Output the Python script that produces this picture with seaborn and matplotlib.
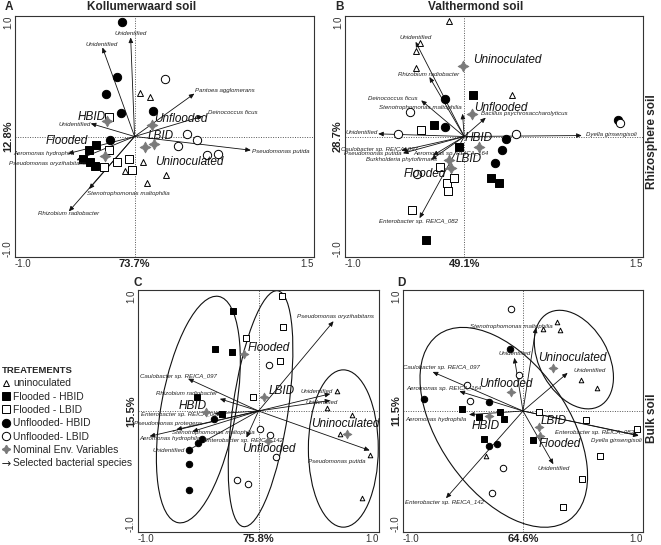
import numpy as np
import pandas as pd
import seaborn as sns
import matplotlib.pyplot as plt
from matplotlib.patches import Ellipse
from matplotlib.lines import Line2D

sns.set_theme(style="white")
plt.rcParams['font.family'] = ['Liberation Sans', 'DejaVu Sans']

groups = ['uninoculated', 'Flooded - HBID', 'Flooded - LBID', 'Unflooded- HBID', 'Unflooded- LBID']

# ---------------- panel A : Kollumerwaard soil (rhizosphere)
A_uninoculated = [(0.044, 0.361), (0.131, 0.331), (0.069, -0.211), (-0.078, -0.289), (0.1, -0.386), (0.264, -0.322)]
A_flooded_hbid = [(-0.319, -0.069), (-0.381, -0.114), (-0.431, -0.183), (-0.375, -0.214), (-0.328, -0.247)]
A_flooded_lbid = [(-0.217, 0.164), (-0.217, -0.114), (-0.258, -0.253), (-0.147, -0.211), (-0.05, -0.183), (-0.022, -0.281)]
A_unflooded_hbid = [(-0.108, 0.947), (-0.15, 0.497), (-0.242, 0.35), (-0.117, 0.197), (0.158, 0.211), (-0.208, -0.031)]
A_unflooded_lbid = [(0.256, 0.475), (0.436, 0.022), (0.519, -0.033), (0.361, -0.075), (0.603, -0.15), (0.7, -0.142)]
A_nominal = ['HBID', 'Flooded', 'Unflooded', 'LBID', 'Uninoculated']
A_nominal_xy = [(-0.231, 0.125), (-0.247, -0.158), (0.147, 0.097), (0.161, -0.061), (0.089, -0.089)]
A_nominal_text_xy = [(-0.361, 0.164), (-0.569, -0.039), (0.386, 0.147), (0.222, 0.008), (0.458, -0.211)]
A_species = ['Unidentified', 'Unidentified', 'Pantoea agglomerans', 'Deinococcus ficus', 'Pseudomonas putida',
             'Unidentified', 'Aeromonas hydrophila', 'Pseudomonas oryzihabitans', 'Stenotrophomonas maltophilia',
             'Rhizobium radiobacter']
A_species_xy = [(-0.033, 0.822), (-0.269, 0.739), (0.5, 0.356), (0.569, 0.169), (0.972, -0.114),
                (-0.367, 0.108), (-0.556, -0.142), (-0.486, -0.197), (-0.381, -0.436), (-0.55, -0.622)]
A_species_text_xy = [(-0.036, 0.853), (-0.275, 0.767), (0.758, 0.383), (0.822, 0.197), (1.222, -0.122),
                     (-0.503, 0.1), (-0.758, -0.144), (-0.731, -0.228), (-0.056, -0.469), (-0.556, -0.636)]

# ---------------- panel B : Valthermond soil (rhizosphere)
B_uninoculated = [(-0.125, 0.958), (-0.375, 0.778), (-0.408, 0.711), (-0.403, 0.569), (0.403, 0.347)]
B_flooded_hbid = [(0.075, 0.347), (-0.25, 0.092), (-0.047, -0.089), (0.225, -0.344), (0.292, -0.389), (-0.319, -0.861)]
B_flooded_lbid = [(-0.361, 0.058), (-0.203, -0.25), (-0.147, -0.389), (-0.139, -0.456), (-0.436, -0.611), (-0.083, -0.344)]
B_unflooded_hbid = [(-0.158, 0.314), (-0.158, 0.078), (0.353, -0.019), (0.319, -0.111), (0.258, -0.219), (1.292, 0.133)]
B_unflooded_lbid = [(-0.458, 0.203), (-0.556, 0.017), (0.431, 0.017), (1.306, 0.111), (-0.397, -0.311)]
B_nominal = ['Uninoculated', 'Unflooded', 'HBID', 'LBID', 'Flooded']
B_nominal_xy = [(-0.006, 0.586), (0.064, 0.189), (0.125, -0.089), (-0.131, -0.194), (-0.111, -0.261)]
B_nominal_text_xy = [(0.364, 0.633), (0.308, 0.239), (0.125, -0.014), (0.036, -0.186), (-0.331, -0.311)]
B_species = ['Unidentified', 'Rhizobium radiobacter', 'Deinococcus ficus', 'Stenotrophomonas maltophilia',
             'Bacillus psychrosaccharolyticus', 'Dyella ginsengisoli', 'Unidentified', 'Caulobacter sp. REICA_097',
             'Pseudomonas putida', 'Aeromonas sp. REICA_164', 'Burkholderia phytofirmans', 'Enterobacter sp. REICA_082']
B_species_xy = [(-0.408, 0.786), (-0.292, 0.494), (-0.361, 0.3), (-0.014, 0.189), (0.181, 0.156), (0.986, 0.008),
                (-0.722, 0.022), (-0.528, -0.117), (-0.514, -0.139), (-0.264, -0.158), (-0.278, -0.194), (-0.375, -0.678)]
B_species_text_xy = [(-0.408, 0.819), (-0.297, 0.517), (-0.603, 0.314), (-0.369, 0.244), (0.508, 0.189), (1.236, 0.014),
                     (-0.856, 0.036), (-0.708, -0.108), (-0.764, -0.144), (-0.11, -0.14), (-0.528, -0.194), (-0.381, -0.706)]

# ---------------- panel C : Kollumerwaard soil (bulk)
C_uninoculated = [(0.652, 0.164), (0.568, 0.026), (0.777, -0.029), (0.673, -0.194), (0.923, -0.36), (0.86, -0.717)]
C_flooded_hbid = [(-0.215, 0.826), (-0.365, 0.514), (-0.218, 0.486), (-0.507, 0.114), (-0.299, -0.021)]
C_flooded_lbid = [(0.196, 0.951), (0.204, 0.697), (-0.107, 0.601), (0.179, 0.413), (-0.043, 0.114)]
C_unflooded_hbid = [(-0.371, -0.064), (-0.468, -0.235), (-0.499, -0.268), (-0.576, -0.326), (-0.576, -0.442), (-0.576, -0.657)]
C_unflooded_lbid = [(0.09, 0.377), (0.013, -0.145), (0.099, -0.195), (0.149, -0.38), (-0.176, -0.573), (-0.085, -0.603)]
C_nominal = ['Flooded', 'LBID', 'HBID', 'Unflooded', 'Uninoculated']
C_nominal_xy = [(-0.121, 0.468), (0.046, 0.114), (-0.432, -0.007), (0.082, -0.25), (0.735, -0.188)]
C_nominal_text_xy = [(0.082, 0.522), (0.193, 0.164), (-0.548, 0.04), (0.082, -0.313), (0.72, -0.11)]
C_species = ['Pseudomonas oryzihabitans', 'Unidentified', 'Unidentified', 'Pseudomonas putida',
             'Caulobacter sp. REICA_097', 'Rhizobium radiobacter', 'Enterobacter sp. REICA_082', 'Pseudomonas protegens',
             'Stenotrophomonas maltophilia', 'Aeromonas hydrophila', 'Enterobacter sp. REICA_142', 'Unidentified']
C_species_xy = [(0.623, 0.742), (0.596, 0.142), (0.596, 0.087), (0.923, -0.326),
                (-0.585, 0.267), (-0.321, 0.101), (-0.363, -0.023), (-0.682, -0.153),
                (-0.55, -0.17), (-0.904, -0.209), (-0.1, -0.22), (-0.599, -0.333)]
C_species_text_xy = [(0.638, 0.78), (0.479, 0.161), (0.527, 0.068), (0.646, -0.415),
                     (-0.665, 0.289), (-0.599, 0.145), (-0.649, -0.029), (-0.751, -0.106),
                     (-0.371, -0.181), (-0.738, -0.228), (-0.121, -0.245), (-0.743, -0.328)]
C_ellipses = [((-0.499, 0.012), 1.90, 0.62, 79.8), ((0.017, 0.019), 1.97, 0.46, 81.7), ((0.704, -0.31), 1.30, 0.58, 90)]

# ---------------- panel D : Valthermond soil (bulk)
D_uninoculated = [(0.286, 0.732), (0.169, 0.677), (0.311, 0.666), (0.483, 0.26), (0.619, 0.191), (-0.308, -0.376)]
D_flooded_hbid = [(-0.508, 0.017), (-0.364, -0.052), (-0.189, -0.006), (-0.161, -0.064), (-0.322, -0.232), (0.086, -0.243)]
D_flooded_lbid = [(0.131, -0.006), (0.525, -0.072), (0.95, -0.146), (0.639, -0.373), (0.489, -0.564), (0.336, -0.796)]
D_unflooded_hbid = [(-0.108, 0.514), (-0.822, 0.099), (-0.286, 0.075), (-0.217, -0.273), (-0.281, -0.29)]
D_unflooded_lbid = [(-0.1, 0.845), (-0.031, 0.301), (-0.469, 0.218), (-0.442, 0.08), (-0.169, -0.467), (-0.258, -0.68)]
D_nominal = ['Uninoculated', 'Unflooded', 'HBID', 'LBID', 'Flooded']
D_nominal_xy = [(0.253, 0.356), (-0.1, 0.155), (-0.286, -0.044), (0.136, -0.135), (0.142, -0.21)]
D_nominal_text_xy = [(0.414, 0.439), (-0.147, 0.227), (-0.308, -0.122), (0.253, -0.086), (0.303, -0.273)]
D_species = ['Stenotrophomonas maltophilia', 'Unidentified', 'Unidentified', 'Caulobacter sp. REICA_097',
             'Aeromonas sp. REICA_164', 'Aeromonas hydrophila', 'Enterobacter sp. REICA_082', 'Dyella ginsengisoli',
             'Unidentified', 'Enterobacter sp. REICA_142']
D_species_xy = [(0.108, 0.69), (-0.072, 0.44), (0.372, 0.315), (-0.753, 0.323),
                (-0.53, 0.163), (-0.45, -0.03), (0.964, -0.202), (0.964, -0.205),
                (0.253, -0.44), (-0.642, -0.721)]
D_species_text_xy = [(-0.1, 0.702), (-0.072, 0.475), (0.553, 0.337), (-0.683, 0.356),
                     (-0.656, 0.182), (-0.725, -0.072), (0.594, -0.174), (0.775, -0.24),
                     (0.253, -0.478), (-0.656, -0.754)]
D_ellipses = [((-0.16, -0.135), 1.88, 1.07, 125.5), ((0.424, 0.425), 0.88, 0.57, 119.7)]

# ---------------- styling
marker = {'uninoculated': '^', 'Flooded - HBID': 's', 'Flooded - LBID': 's',
          'Unflooded- HBID': 'o', 'Unflooded- LBID': 'o'}
face = {'uninoculated': 'white', 'Flooded - HBID': 'black', 'Flooded - LBID': 'white',
        'Unflooded- HBID': 'black', 'Unflooded- LBID': 'white'}
msize = {'uninoculated': 18, 'Flooded - HBID': 34, 'Flooded - LBID': 34,
         'Unflooded- HBID': 36, 'Unflooded- LBID': 36}
star = (4, 1, 0)
star_col = '#7a7a7a'


def make_df(pts):
    rows = []
    for g, lst in zip(groups, pts):
        for x, y in lst:
            rows.append({'x': x, 'y': y, 'group': g})
    return pd.DataFrame(rows)


def draw_panel(ax, pts, nom, nom_xy, nom_txt, spp, spp_xy, spp_txt, xmax, xpct, ypct, k, star_s):
    ax.set_xlim(-1, xmax)
    ax.set_ylim(-1, 1)
    ax.axhline(0, color='#555555', lw=0.7, ls=(0, (1, 1.5)), zorder=0)
    ax.axvline(0, color='#555555', lw=0.7, ls=(0, (1, 1.5)), zorder=0)
    for (sx, sy), (tx, ty), name in zip(spp_xy, spp_txt, spp):
        ax.annotate('', xy=(sx, sy), xytext=(0, 0),
                    arrowprops=dict(arrowstyle='-|>,head_length=0.5,head_width=0.22', lw=0.6,
                                    color='#111111', shrinkA=0, shrinkB=0, mutation_scale=6))
        ax.text(tx, ty, name, fontsize=4.4, style='italic', ha='center', va='center', color='#222222', zorder=4)
    df = make_df(pts)
    for g in groups:
        sub = df[df['group'] == g]
        sns.scatterplot(data=sub, x='x', y='y', marker=marker[g], color=face[g], edgecolor='black',
                        linewidth=0.7, s=msize[g] * k, ax=ax, legend=False, zorder=3)
    nd = pd.DataFrame({'x': [p[0] for p in nom_xy], 'y': [p[1] for p in nom_xy]})
    sns.scatterplot(data=nd, x='x', y='y', marker=star, color=star_col, edgecolor=star_col,
                    linewidth=0.6, s=star_s, ax=ax, legend=False, zorder=5)
    for (tx, ty), name in zip(nom_txt, nom):
        ax.text(tx, ty, name, fontsize=8.5, style='italic', ha='center', va='center', color='#111111', zorder=6)
    ax.set_xlabel('')
    ax.set_ylabel('')
    xt = np.arange(-1, xmax + 0.01, 0.5)
    ax.set_xticks(xt)
    ax.set_xticklabels(['%.1f' % v if i in (0, len(xt) - 1) else '' for i, v in enumerate(xt)])
    ax.set_yticks([-1, -0.5, 0, 0.5, 1])
    ax.set_yticklabels(['-1.0', '', '', '', '1.0'], rotation=90)
    ax.tick_params(direction='in', length=2.5, width=0.6, labelsize=7, colors='#333333', pad=1.5)
    xl = ax.get_xticklabels()
    xl[0].set_ha('left')
    xl[-1].set_ha('right')
    yl = ax.get_yticklabels()
    yl[0].set_va('bottom')
    yl[-1].set_va('top')
    for t in yl:
        t.set_ha('right')
    for sp in ax.spines.values():
        sp.set_color('#333333')
        sp.set_linewidth(0.8)
    ax.annotate(xpct, xy=(0, 0), xycoords=ax.get_xaxis_transform(), xytext=(0, -1.5),
                textcoords='offset points', ha='center', va='top',
                fontsize=8, fontweight='bold', color='#222222')
    ax.annotate(ypct, xy=(0, 0), xycoords=ax.get_yaxis_transform(), xytext=(-1.5, 0),
                textcoords='offset points', ha='right', va='center', rotation=90,
                fontsize=8, fontweight='bold', color='#222222')


fig = plt.figure(figsize=(6.61, 5.45), dpi=100)
W, H = 661, 545


def box(l, t, r, b):
    return [l / W, 1 - b / H, (r - l) / W, (b - t) / H]


axA = fig.add_axes(box(15, 16, 314, 257))
axB = fig.add_axes(box(345, 16, 643, 257))
axC = fig.add_axes(box(138, 290, 379, 532))
axD = fig.add_axes(box(403, 290, 643, 532))

draw_panel(axA, [A_uninoculated, A_flooded_hbid, A_flooded_lbid, A_unflooded_hbid, A_unflooded_lbid],
           A_nominal, A_nominal_xy, A_nominal_text_xy, A_species, A_species_xy, A_species_text_xy,
           1.5, '73.7%', '12.8%', 1.0, 60)
draw_panel(axB, [B_uninoculated, B_flooded_hbid, B_flooded_lbid, B_unflooded_hbid, B_unflooded_lbid],
           B_nominal, B_nominal_xy, B_nominal_text_xy, B_species, B_species_xy, B_species_text_xy,
           1.5, '49.1%', '28.7%', 1.0, 60)
draw_panel(axC, [C_uninoculated, C_flooded_hbid, C_flooded_lbid, C_unflooded_hbid, C_unflooded_lbid],
           C_nominal, C_nominal_xy, C_nominal_text_xy, C_species, C_species_xy, C_species_text_xy,
           1.0, '75.8%', '15.5%', 0.6, 40)
draw_panel(axD, [D_uninoculated, D_flooded_hbid, D_flooded_lbid, D_unflooded_hbid, D_unflooded_lbid],
           D_nominal, D_nominal_xy, D_nominal_text_xy, D_species, D_species_xy, D_species_text_xy,
           1.0, '64.6%', '11.5%', 0.6, 40)

for ax, ells in ((axC, C_ellipses), (axD, D_ellipses)):
    for (cx, cy), w, h, ang in ells:
        ax.add_patch(Ellipse((cx, cy), w, h, angle=ang, fill=False, lw=0.8, color='#111111', zorder=2))

# panel letters, titles and side labels
fig.text(5 / W, 1 - 7 / H, 'A', fontsize=8.5, fontweight='bold', va='center')
fig.text(335 / W, 1 - 7 / H, 'B', fontsize=8.5, fontweight='bold', va='center')
fig.text(133 / W, 1 - 283 / H, 'C', fontsize=8.5, fontweight='bold', va='center')
fig.text(397 / W, 1 - 283 / H, 'D', fontsize=8.5, fontweight='bold', va='center')
fig.text(142 / W, 1 - 7 / H, 'Kollumerwaard soil', fontsize=8.5, fontweight='bold', ha='center', va='center')
fig.text(476 / W, 1 - 7 / H, 'Valthermond soil', fontsize=8.5, fontweight='bold', ha='center', va='center')
fig.text(652 / W, 1 - 142 / H, 'Rhizosphere soil', fontsize=8.5, fontweight='bold', rotation=90,
         ha='center', va='center')
fig.text(652 / W, 1 - 418 / H, 'Bulk soil', fontsize=8.5, fontweight='bold', rotation=90,
         ha='center', va='center')

# legend
handles = [Line2D([], [], ls='none', marker=marker[g], mfc=face[g], mec='black', mew=0.7,
                  ms=5 if g == 'uninoculated' else 6) for g in groups]
handles.append(Line2D([], [], ls='none', marker=star, color=star_col, ms=6))
handles.append(Line2D([], [], ls='none', marker=r'$\rightarrow$', color='#222222', mew=0, ms=6))
labels = ['uninoculated', 'Flooded - HBID', 'Flooded - LBID', 'Unflooded- HBID', 'Unflooded- LBID',
          'Nominal Env. Variables', 'Selected bacterial species']
fig.legend(handles, labels, loc='upper left', bbox_to_anchor=(-0.008, 1 - 359 / H), frameon=False,
           fontsize=7.4, title='TREATEMENTS', title_fontproperties={'weight': 'bold', 'size': 6.8},
           alignment='left', handlelength=0.8, handletextpad=0.3, labelspacing=0.32, borderpad=0.2)

fig.savefig('out.png', dpi=100)
